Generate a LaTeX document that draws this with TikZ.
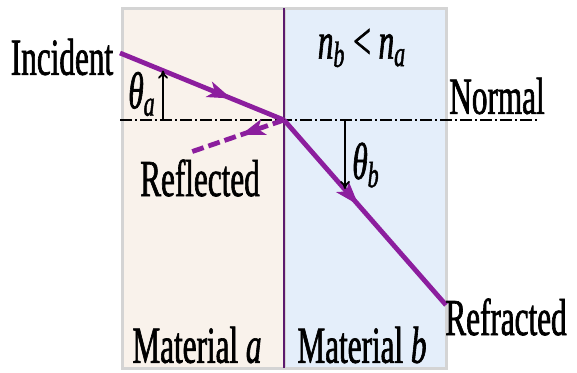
\documentclass[tikz,border=0pt]{standalone}
\usepackage{fontspec}
\setmainfont{Liberation Serif}[FakeStretch=0.6,FakeBold=1.2]
\usetikzlibrary{arrows.meta,decorations.markings,calc}
\definecolor{raypurple}{RGB}{140,30,158}
\definecolor{edgepurple}{RGB}{92,26,110}
\definecolor{mata}{RGB}{249,242,235}
\definecolor{matb}{RGB}{228,238,250}
\definecolor{panelgray}{RGB}{212,212,212}
\tikzset{
  lbl/.style={font=\fontsize{26}{27}\selectfont,inner sep=0pt},
  panel/.style={draw=panelgray,line width=1.5pt},
  ray/.style={draw=raypurple,line width=2.4pt},
  midarrow/.style={postaction={decorate},decoration={markings,
    mark=at position #1 with {\arrow{Stealth[length=12pt,width=8pt,inset=3pt]}}}},
  normalline/.style={line width=0.9pt,dash pattern=on 6pt off 1.5pt on 1pt off 1.5pt},
  anglearrow/.style={line width=0.9pt,-{To[length=4pt,width=5pt]}}
}
\begin{document}
\begin{tikzpicture}[x=0.5pt,y=0.5pt]
\useasboundingbox (0,0) rectangle (577,372);
% the two materials
\draw[panel,fill=mata] (122,4) rectangle (284,364);
\draw[panel,fill=matb] (284,4) rectangle (446,364);
\draw[edgepurple,line width=1pt] (284,4) -- (284,364);

% points of the rays
\coordinate (O) at (284,252);
\coordinate (inc) at (120,319);
\coordinate (refl) at (188,219);
\coordinate (refr) at (446,67);
\coordinate (nl) at (120,252);
\coordinate (nr) at (537,252);

% normal
\draw[normalline] (nl) -- (nr);

% rays
\draw[ray,midarrow=0.68] (inc) -- (O);
\draw[ray,midarrow=0.46] (O) -- (refr);
\draw[ray,dash pattern=on 6pt off 2.5pt,midarrow=0.45] (O) -- (refl);

% angles
\coordinate (ta0) at (163,252);
\coordinate (ta1) at ($(inc)!0.262!(O)$);
\draw[anglearrow] (ta0) -- (ta0 |- ta1);
\coordinate (tb0) at (345,252);
\draw[anglearrow] (tb0) -- (345,183);
\node[lbl] (thetaa) at (142,278) {\itshape θ\textsubscript{a}};
\node[lbl] (thetab) at (366,207) {\itshape θ\textsubscript{b}};

% labels
\node[lbl] (incident) at (62,315) {Incident};
\node[lbl] (normal) at (497,276) {Normal};
\node[lbl] (reflected) at (200,194) {Reflected};
\node[lbl] (refracted) at (506,55) {Refracted};
\node[lbl] (index) at (362,324) {\itshape n\textsubscript{b} \upshape< \itshape n\textsubscript{a}};
\node[lbl] (mata) at (197,27) {Material \textit{a}};
\node[lbl] (matb) at (362,27) {Material \textit{b}};
\end{tikzpicture}
\end{document}
